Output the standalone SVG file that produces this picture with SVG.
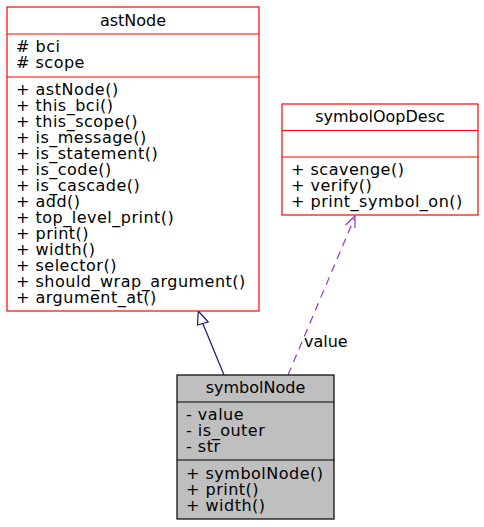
<svg xmlns="http://www.w3.org/2000/svg" width="484" height="527" viewBox="0 0 484 527">
<style>
text{font-family:"DejaVu Sans","Liberation Sans",sans-serif;font-size:16px;fill:#000}
.c{text-anchor:middle}
.m{letter-spacing:0.5px}
.red{fill:#fff;stroke:#ff0000;stroke-width:1.2}
.grey{fill:#bfbfbf;stroke:#000;stroke-width:1.2}
.sepr{stroke:#ff0000;stroke-width:1.2}
.sepk{stroke:#000;stroke-width:1.2}
</style>
<rect width="484" height="527" fill="#fff"/>
<g id="connectors" fill="none">
<g id="inherit">
<line x1="224" y1="375" x2="202.8" y2="323.5" stroke="#191970" stroke-width="1.2"/>
<polygon points="198.3,311 197.5,325 208.2,322" fill="#fff" stroke="#191970" stroke-width="1.2"/>
</g>
<g id="uses">
<line x1="288" y1="375" x2="354" y2="219" stroke="#9a32cd" stroke-width="1.2" stroke-dasharray="8,6"/>
<polyline points="345.5,225 355,216 355,228" fill="none" stroke="#9a32cd" stroke-width="1.2"/>
<text x="304" y="347">value</text>
</g>
</g>
<g id="astNode">
<rect class="red" x="7" y="7" width="252" height="304"/>
<line class="sepr" x1="7" y1="34" x2="259" y2="34"/>
<line class="sepr" x1="7" y1="77" x2="259" y2="77"/>
<text class="c" x="133" y="26">astNode</text>
<text class="m" x="16" y="52"># bci</text>
<text class="m" x="16" y="68"># scope</text>
<text class="m" x="16" y="95">+ astNode()</text>
<text class="m" x="16" y="111">+ this_bci()</text>
<text class="m" x="16" y="127">+ this_scope()</text>
<text class="m" x="16" y="143">+ is_message()</text>
<text class="m" x="16" y="159">+ is_statement()</text>
<text class="m" x="16" y="175">+ is_code()</text>
<text class="m" x="16" y="191">+ is_cascade()</text>
<text class="m" x="16" y="207">+ add()</text>
<text class="m" x="16" y="223">+ top_level_print()</text>
<text class="m" x="16" y="239">+ print()</text>
<text class="m" x="16" y="255">+ width()</text>
<text class="m" x="16" y="271">+ selector()</text>
<text class="m" x="16" y="287">+ should_wrap_argument()</text>
<text class="m" x="16" y="303">+ argument_at()</text>
</g>
<g id="symbolOopDesc">
<rect class="red" x="282" y="104" width="196" height="111"/>
<line class="sepr" x1="282" y1="130.5" x2="478" y2="130.5"/>
<line class="sepr" x1="282" y1="157" x2="478" y2="157"/>
<text class="c" x="380" y="122">symbolOopDesc</text>
<text class="m" x="291" y="175">+ scavenge()</text>
<text class="m" x="291" y="191">+ verify()</text>
<text class="m" x="291" y="207">+ print_symbol_on()</text>
</g>
<g id="symbolNode">
<rect class="grey" x="177" y="375" width="157" height="144"/>
<line class="sepk" x1="177" y1="402" x2="334" y2="402"/>
<line class="sepk" x1="177" y1="460" x2="334" y2="460"/>
<text class="c" x="255.5" y="393">symbolNode</text>
<text class="m" x="186" y="420">- value</text>
<text class="m" x="186" y="436">- is_outer</text>
<text class="m" x="186" y="452">- str</text>
<text class="m" x="186" y="479">+ symbolNode()</text>
<text class="m" x="186" y="495">+ print()</text>
<text class="m" x="186" y="511">+ width()</text>
</g>
</svg>
